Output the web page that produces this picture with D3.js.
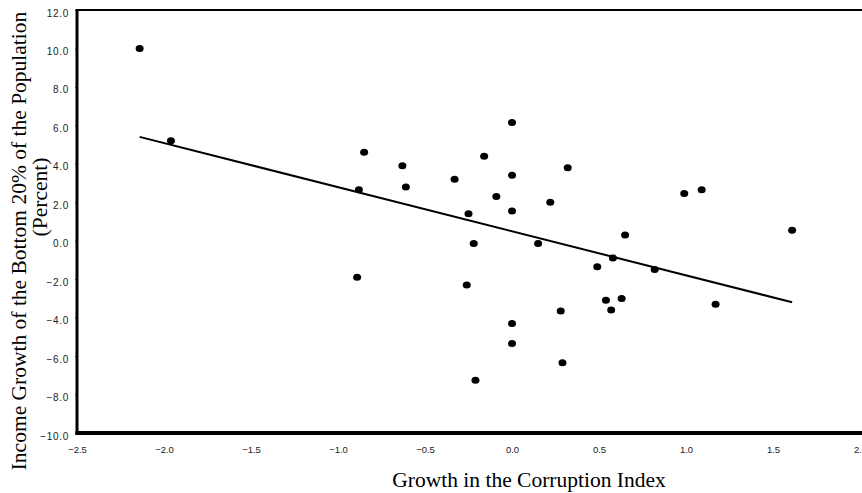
<!DOCTYPE html>
<html>
<head>
<meta charset="utf-8">
<script src="https://cdn.jsdelivr.net/npm/d3@7"></script>
<style>
  body { margin: 0; background: #fff; }
  svg { display: block; }
</style>
</head>
<body>
<div id="chart"></div>
<script>
// Corruption growth (x) vs income growth of the bottom 20% (y)
const corruption = [
  -2.14, -1.96, 0.00, -0.85, -0.16, -0.63, 0.32, 0.00, -0.33, -0.61,
  -0.88, -0.09, 0.22, 0.00, -0.25, -0.22, 0.15, 0.99, 1.09, 0.65,
  1.61, 0.49, 0.58, 0.82, -0.89, -0.26, 0.28, 0.00, 0.00, 0.29,
  -0.21, 0.54, 0.63, 0.57, 1.17
];
const incomeGrowth = [
  10.0, 5.2, 6.15, 4.6, 4.4, 3.9, 3.8, 3.4, 3.2, 2.8,
  2.65, 2.3, 2.0, 1.55, 1.4, -0.15, -0.15, 2.45, 2.65, 0.3,
  0.55, -1.35, -0.9, -1.5, -1.9, -2.3, -3.65, -4.3, -5.35, -6.35,
  -7.25, -3.1, -3.0, -3.6, -3.3
];
// fitted line end points
const fitX = [-2.14, 1.61];
const fitY = [5.4, -3.2];

const xTicks = [-2.5, -2.0, -1.5, -1.0, -0.5, 0.0, 0.5, 1.0, 1.5, 2.0];
const yTicks = [12, 10, 8, 6, 4, 2, 0, -2, -4, -6, -8, -10];

const width = 862, height = 493;

var svg = d3.select("#chart").append("svg")
    .attr("width", width)
    .attr("height", height);

var x = d3.scaleLinear().domain([-2.5, 2.0]).range([77, 860]);
var y = d3.scaleLinear().domain([-10, 12]).range([433, 10]);

// y axis
var yAxis = d3.axisLeft(y)
    .tickValues(yTicks)
    .tickSize(2)
    .tickFormat(d3.format(".1f"));

svg.append("g")
    .attr("transform", "translate(77,0)")
    .call(yAxis)
    .call(g => g.select(".domain").remove())
    .call(g => g.selectAll(".tick line").attr("stroke", "#333"))
    .call(g => g.selectAll(".tick text")
        .attr("x", -8)
        .attr("dy", "0.6em")
        .attr("font-family", "Liberation Sans, Arial, sans-serif")
        .attr("font-size", 10)
        .attr("letter-spacing", 0.7)
        .attr("fill", "#222"));

// x axis
var xAxis = d3.axisBottom(x)
    .tickValues(xTicks)
    .tickSize(0)
    .tickFormat(d3.format(".1f"));

svg.append("g")
    .attr("transform", "translate(0,433)")
    .call(xAxis)
    .call(g => g.select(".domain").remove())
    .call(g => g.selectAll(".tick text")
        .attr("y", 13)
        .attr("font-family", "Liberation Sans, Arial, sans-serif")
        .attr("font-size", 9.5)
        .attr("fill", "#222"));

// frame lines
svg.append("line")
    .attr("x1", x(-2.5)).attr("x2", width)
    .attr("y1", y(12)).attr("y2", y(12))
    .attr("stroke", "#000").attr("stroke-width", 2);

svg.append("line")
    .attr("x1", x(-2.5)).attr("x2", x(-2.5))
    .attr("y1", y(12) - 1).attr("y2", y(-10) + 2)
    .attr("stroke", "#000").attr("stroke-width", 3);

svg.append("line")
    .attr("x1", x(-2.5) - 1.5).attr("x2", width)
    .attr("y1", y(-10)).attr("y2", y(-10))
    .attr("stroke", "#000").attr("stroke-width", 4);

// regression line
var fit = fitX.map((v, i) => [v, fitY[i]]);
svg.append("path")
    .datum(fit)
    .attr("fill", "none")
    .attr("stroke", "#000")
    .attr("stroke-width", 2)
    .attr("d", d3.line().x(d => x(d[0])).y(d => y(d[1])));

// points
var points = corruption.map((v, i) => ({ x: v, y: incomeGrowth[i] }));
svg.selectAll(".dot")
    .data(points)
    .enter().append("ellipse")
    .attr("class", "dot")
    .attr("cx", d => x(d.x))
    .attr("cy", d => y(d.y))
    .attr("rx", 4)
    .attr("ry", 3.5)
    .attr("fill", "#000");

// axis titles
svg.append("text")
    .attr("x", 529)
    .attr("y", 487)
    .attr("text-anchor", "middle")
    .attr("font-family", "Liberation Serif, Times New Roman, serif")
    .attr("font-size", 21.5)
    .text("Growth in the Corruption Index");

svg.append("text")
    .attr("transform", "translate(26,241) rotate(-90)")
    .attr("text-anchor", "middle")
    .attr("font-family", "Liberation Serif, Times New Roman, serif")
    .attr("font-size", 21.5)
    .text("Income Growth of the Bottom 20% of the Population");

svg.append("text")
    .attr("transform", "translate(47,197) rotate(-90)")
    .attr("text-anchor", "middle")
    .attr("font-family", "Liberation Serif, Times New Roman, serif")
    .attr("font-size", 21.5)
    .text("(Percent)");
</script>
</body>
</html>
